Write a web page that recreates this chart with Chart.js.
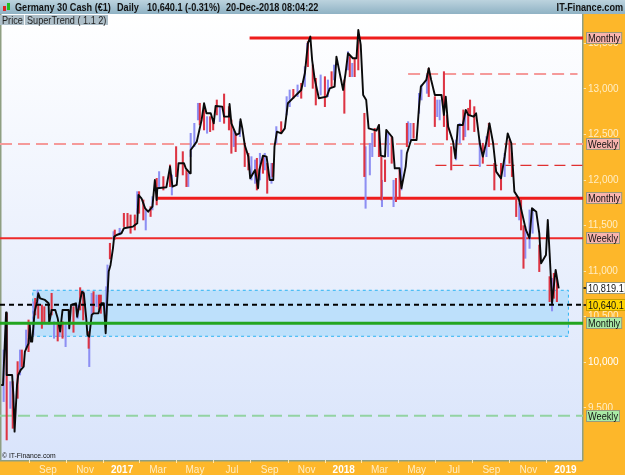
<!DOCTYPE html>
<html><head><meta charset="utf-8">
<style>
html,body{margin:0;padding:0;background:#fff;overflow:hidden}
#wrap{position:relative;width:625px;height:475px;font-family:"Liberation Sans",Arial,sans-serif}
#hdr{position:absolute;left:0;top:0;width:625px;height:14px;background:linear-gradient(#bcd3de,#8fb2c4);font-size:11px;font-weight:bold;line-height:15px;color:#111;white-space:pre}
#hdr span{position:absolute;top:0;transform:scaleX(.83);transform-origin:left}
#hdr span.r{transform-origin:right}
#tab{position:absolute;left:0;top:15px;height:10px;width:108px;background:#aebfc9;font-size:10.5px;line-height:11px;color:#222;white-space:pre}
#tab span{position:absolute;top:0;transform:scaleX(.87);transform-origin:left}
#icon{position:absolute;left:2px;top:2px;width:9px;height:10px}
canvas{position:absolute;left:0;top:0}
</style></head><body>
<div id="wrap">
<canvas id="c" width="625" height="475"></canvas>
<div id="hdr"><svg id="icon" viewBox="0 0 9 10"><rect x="1" y="4" width="3" height="5" fill="#d22"/><rect x="5" y="1" width="3" height="7" fill="#2b2"/></svg><span style="left:15px">Germany 30 Cash (€1)</span><span style="left:117px">Daily</span><span style="left:147px">10,640.1 (-0.31%)</span><span style="left:226px">20-Dec-2018 08:04:22</span><span class="r" style="right:2px">IT-Finance.com</span></div>
<div id="tab"><span style="left:2px">Price</span><span style="left:24px;width:1px;height:10px;background:#fff"></span><span style="left:27px">SuperTrend ( 1.1 2)</span></div>
</div>
<script src="https://cdn.jsdelivr.net/npm/chart.js@4"></script>
<script>
// x values are calendar days counted from 1 Jan 2017
const tickDays=[-122,-61,0,59,120,181,243,304,365,424,485,546,608,669,730];
const tickLabels=["Sep","Nov","2017","Mar","May","Jul","Sep","Nov","2018","Mar","May","Jul","Sep","Nov","2019"];
const priceTicks=[9500,10000,10500,11000,11500,12000,12500,13000,13500];

const trendDays=[-199,-196,-191,-190,-181,-179,-177,-173,-171,-167,-162,-160,-154,-152,-150,-148,-144,-140,-138,-135,-127,-121,-120,-116,-110,-106,-102,-98,-88,-87,-84,-76,-74,-70,-66,-63,-59,-57,-54,-50,-47,-39,-34,-30,-27,-24,-22,-19,-15,-13,-9,-1,3,18,25,27,32,38,43,50,54,57,58,73,79,83,90,93,102,105,112,113,123,131,135,139,146,151,154,165,168,176,177,180,188,193,195,198,202,208,211,219,224,226,232,238,243,249,251,255,262,268,273,284,295,301,306,310,313,317,324,337,342,350,353,359,364,368,372,380,386,389,393,397,402,406,419,423,426,433,435,445,449,457,460,467,469,476,485,489,492,501,505,509,515,526,530,533,537,545,549,553,561,566,570,579,583,589,594,600,605,611,616,624,630,635,641,646,653,660,665,671,675,682,687,690,698,701,704,706,708,712,714,719];
const trendValues=[9750,9750,10548,9860,9860,9641,9238,9750,9860,9915,9952,10116,10208,10409,10226,10226,10555,10665,10757,10702,10684,10647,10427,10574,10574,10482,10336,10574,10574,10372,10629,10647,10500,10647,10775,10757,10482,10299,10281,10519,10537,10537,10647,10647,10318,10738,10995,11068,11251,11379,11397,11416,11471,11489,11525,11836,11800,11690,11653,11708,12001,11781,11910,11921,12148,11928,11946,12184,12184,12129,12074,12330,12422,12660,12843,12733,12733,12623,12813,12806,12696,12696,12835,12623,12495,12513,12667,12568,12385,12257,12019,12111,11910,12111,12268,12257,12001,12001,12367,12532,12513,12568,12843,12916,12989,13172,13501,13575,13318,13117,12898,12916,13007,13026,13355,13154,12989,13172,13392,13337,13337,13648,13483,12934,12879,12568,12543,12605,12268,12257,12550,12470,12129,12129,11910,12148,12294,12440,12440,12806,13026,13099,13227,13099,12934,12934,12715,12916,12587,12422,12239,12605,12605,12770,12715,12696,12733,12404,12257,12422,12623,12404,12093,12019,12257,12513,12404,11873,11800,11599,11452,11361,11690,11653,11416,11086,11177,11562,11200,10940,10647,10900,11013,10812];

const redDays=[-190,-180,-172,-165,-154,-143,-138,-132,-128,-116,-106,-98,-80,-69,-64,-55,-47,-38,-35,-20,-12,3,9,14,21,28,35,47,57,68,79,89,100,106,128,135,145,150,156,168,176,180,187,202,208,222,232,239,248,262,282,295,306,314,319,334,345,366,375,383,389,399,416,423,427,433,444,451,457,469,480,505,515,530,535,542,562,570,573,580,594,604,613,624,638,642,649,657,661,687,704,711,716];
const redLows=[9147,9275,9604,9952,10116,10519,10482,10372,10446,10519,10233,10263,10329,10574,10464,10153,10537,10574,10537,11134,11350,11489,11489,11416,11452,11635,11562,11600,11727,11891,11928,12038,12056,11928,12605,12550,12532,12550,12715,12623,12550,12294,12312,12148,12111,11891,12074,11855,12038,12513,12898,12898,13245,13007,12824,12806,13026,12733,13135,13135,13209,12038,12367,12257,11782,11983,12184,11763,11818,12367,12459,12916,12587,12587,12440,12111,12440,12550,12715,12532,12184,12367,11891,11891,12184,12038,11599,11452,11031,10995,10665,10702,10665];
const redHighs=[10537,9787,10007,10135,10464,10702,10629,10629,10610,10757,10427,10446,10610,10819,10775,10336,10775,10738,10738,11306,11452,11635,11635,11617,11617,11873,11782,11708,12019,12038,12166,12367,12312,12111,12843,12806,12696,12660,12879,12945,12806,12660,12513,12404,12294,12239,12257,12184,12184,12641,12996,13062,13520,13264,13117,13135,13190,13099,13355,13337,13538,12733,12568,12605,12257,12221,12477,12019,12111,12623,12623,13227,12916,13190,12715,12367,12770,12788,12879,12806,12404,12623,12184,12184,12440,12294,11818,11782,11500,11287,10940,10976,10921];

const blueDays=[-195,-184,-168,-158,-146,-139,-112,-103,-93,-73,-54,-50,-42,-26,-24,-14,-4,25,39,50,61,82,109,113,119,125,140,161,184,194,213,219,227,235,246,254,271,276,289,301,305,327,339,349,372,379,401,408,412,428,438,447,460,471,475,489,493,502,519,523,550,556,565,589,600,630,654,664,671,676,708];
const blueLows=[9568,9494,9860,10153,10299,10629,10263,10281,10171,10482,9952,10500,10610,10519,10775,11350,11397,11635,11452,11672,11910,11836,11928,12257,12367,12660,12514,12642,12367,12477,12001,11964,12001,12111,11964,12404,12715,12806,12916,13026,13282,12934,12916,13099,13209,13135,11690,12056,12257,11708,12257,11708,11891,12404,12440,12733,12879,12952,12696,12660,12221,12404,12477,12148,12257,12038,11562,11141,11250,11416,10563];
const blueHighs=[10135,9787,10135,10354,10665,10793,10446,10409,10409,10629,10299,10757,10738,10830,11068,11434,11471,11873,11672,11818,12093,12056,12074,12513,12623,12843,12696,12806,12550,12642,12257,12221,12294,12294,12184,12587,12916,12989,13044,13245,13501,13154,13099,13263,13410,13282,12367,12404,12513,11998,12513,11998,12330,12641,12623,12952,13044,13154,12879,12879,12440,12623,12733,12440,12477,12294,11745,11490,11672,11690,10921];

const lineMonthlyTop=13560, lineWeeklyTop=13165, lineWeeklyMid=12396, lineShortDash=12162,
      lineMonthlyMid=11800, lineWeeklyRed=11360, lineLast=10630, lineMonthlyGreen=10427, lineWeeklyGreen=9414;
const zoneLow=10285, zoneHigh=10790, zoneStart=-147, zoneEnd=735;
const xMin=-201, xMax=759, yMin=8927, yMax=13823;

const tagValues=[13560,12396,11800,11360,10819.1,10630,10427,9414];
const tagTexts=["Monthly","Weekly","Monthly","Weekly","10,819.1","10,640.1","Monthly","Weekly"];
const tagFills=["#f8b4ae","#f8b4ae","#f8b4ae","#f8b4ae","#ffffff","#ffd500","#a9eaa5","#a9eaa5"];
const FONT='"Liberation Sans",Arial,sans-serif';

const pair=(a,b)=>a.map((x,i)=>({x,y:b[i]}));
const hl=(y,a,b,color,width,dash,order)=>({type:'line',data:[{x:a,y},{x:b,y}],borderColor:color,borderWidth:width,borderDash:dash||[],pointRadius:0,order});
const floats=(d,l,h)=>d.map((x,i)=>({x,y:[l[i],h[i]]}));

const panel={id:'panel',
 beforeDraw(ch){const c=ch.ctx,a=ch.chartArea;c.save();
  c.fillStyle='#fdb72a';c.fillRect(0,0,625,475);
  const g=c.createLinearGradient(0,a.top,0,a.bottom);g.addColorStop(0,'#ffffff');g.addColorStop(1,'#d9e4fb');
  c.fillStyle=g;c.fillRect(a.left,a.top,a.right-a.left,a.bottom-a.top);
  c.fillStyle='#8f9f82';c.fillRect(0,a.top,1.5,a.bottom-a.top);c.fillRect(0,a.bottom,a.right,1.5);
  c.restore();},
 beforeDatasetsDraw(ch){const c=ch.ctx,x=ch.scales.x,y=ch.scales.y;
  const l=x.getPixelForValue(zoneStart),r=x.getPixelForValue(zoneEnd),t=y.getPixelForValue(zoneHigh),b=y.getPixelForValue(zoneLow);
  c.save();c.fillStyle='#bde0fb';c.fillRect(l,t,r-l,b-t);
  c.strokeStyle='#2db4f2';c.lineWidth=1;c.setLineDash([3,3]);c.strokeRect(l,t,r-l,b-t);c.restore();},
 afterDraw(ch){const c=ch.ctx,y=ch.scales.y;c.save();
  c.font='11.5px '+FONT;c.textBaseline='middle';c.textAlign='left';
  tagValues.forEach((v,i)=>{const p=Math.round(y.getPixelForValue(v));const w=c.measureText(tagTexts[i]).width*.8+3;
   if(tagFills[i]==='#ffffff'||tagFills[i]==='#ffd500'){c.fillStyle='#3a3020';c.fillRect(583.5,p-1,2.5,2);}
   c.fillStyle=tagFills[i];c.fillRect(586.5,p-5.5,w,11);c.strokeStyle=tagFills[i]==='#ffd500'?'#c9a000':'#9a9a7a';c.lineWidth=1;c.strokeRect(586.5,p-5.5,w,11);
   c.save();c.translate(588,p+.5);c.scale(.8,1);c.fillStyle='#111';c.fillText(tagTexts[i],0,0);c.restore();});
  c.save();c.translate(2,456);c.scale(.85,1);c.font='8px '+FONT;c.fillStyle='#111';c.fillText('© IT-Finance.com',0,0);c.restore();
  c.restore();}
};

new Chart(document.getElementById('c'),{
 data:{datasets:[
  {type:'line',data:pair(trendDays,trendValues),borderColor:'#0a0a0a',borderWidth:1.9,borderJoinStyle:'round',pointRadius:0,tension:0,order:3},
  hl(lineLast,xMin,xMax,'#000',2,[5,4],1),
  hl(lineMonthlyGreen,xMin,xMax,'#22a51f',3,[],2),
  {type:'bar',data:floats(blueDays,blueLows,blueHighs),backgroundColor:'#8d8ff3',barThickness:1.4,grouped:false,order:5},
  {type:'bar',data:floats(redDays,redLows,redHighs),backgroundColor:'#dd3443',barThickness:1.4,grouped:false,order:4},
  hl(lineMonthlyTop,210,xMax,'#ee1c1c',3,[],6),
  hl(lineMonthlyMid,58,xMax,'#ee1c1c',3,[],6),
  hl(lineWeeklyRed,xMin,xMax,'#ee2a2a',2,[],6),
  hl(lineWeeklyTop,471,750,'#f59a9a',2,[12,6],7),
  hl(lineWeeklyMid,xMin,xMax,'#f59a9a',2,[12,6],7),
  hl(lineShortDash,516,xMax,'#e03030',1.3,[11,6],7),
  hl(lineWeeklyGreen,xMin,xMax,'#93d3a3',2,[12,6],7)
 ]},
 options:{responsive:false,animation:false,devicePixelRatio:1,
  layout:{padding:{top:14,left:0,right:0,bottom:0}},
  plugins:{legend:{display:false},tooltip:{enabled:false}},
  scales:{
   x:{type:'linear',min:xMin,max:xMax,offset:false,
    afterFit(s){s.height=15;},
    afterBuildTicks(s){s.ticks=tickDays.map(v=>({value:v}));},
    grid:{drawOnChartArea:false,drawTicks:true,tickLength:3,tickColor:'#ffe7ad'},border:{display:false},
    ticks:{autoSkip:false,maxRotation:0,padding:1,
     callback(v){return tickLabels[tickDays.indexOf(v)];},
     color(c){return /^\d/.test(tickLabels[c.index]||'')?'#ffffff':'#ffedc4';},
     font(c){const yr=/^\d/.test(tickLabels[c.index]||'');return {family:FONT,size:10,weight:yr?'bold':'normal'};}}},
   y:{type:'linear',position:'right',min:yMin,max:yMax,
    afterFit(s){s.width=42;},
    afterBuildTicks(s){s.ticks=priceTicks.map(v=>({value:v}));},
    grid:{drawOnChartArea:false,drawTicks:true,tickLength:3,tickColor:'#ffe7ad'},
    border:{display:true,color:'#8f9f82',width:1.5},
    ticks:{autoSkip:false,padding:2,
     callback(v){return v.toLocaleString('en-US');},
     color(c){return priceTicks[c.index]===10000?'#ffffff':'#ffedc4';},
     font:{family:FONT,size:10}}}
  }},
 plugins:[panel]
});
</script>
</body></html>
